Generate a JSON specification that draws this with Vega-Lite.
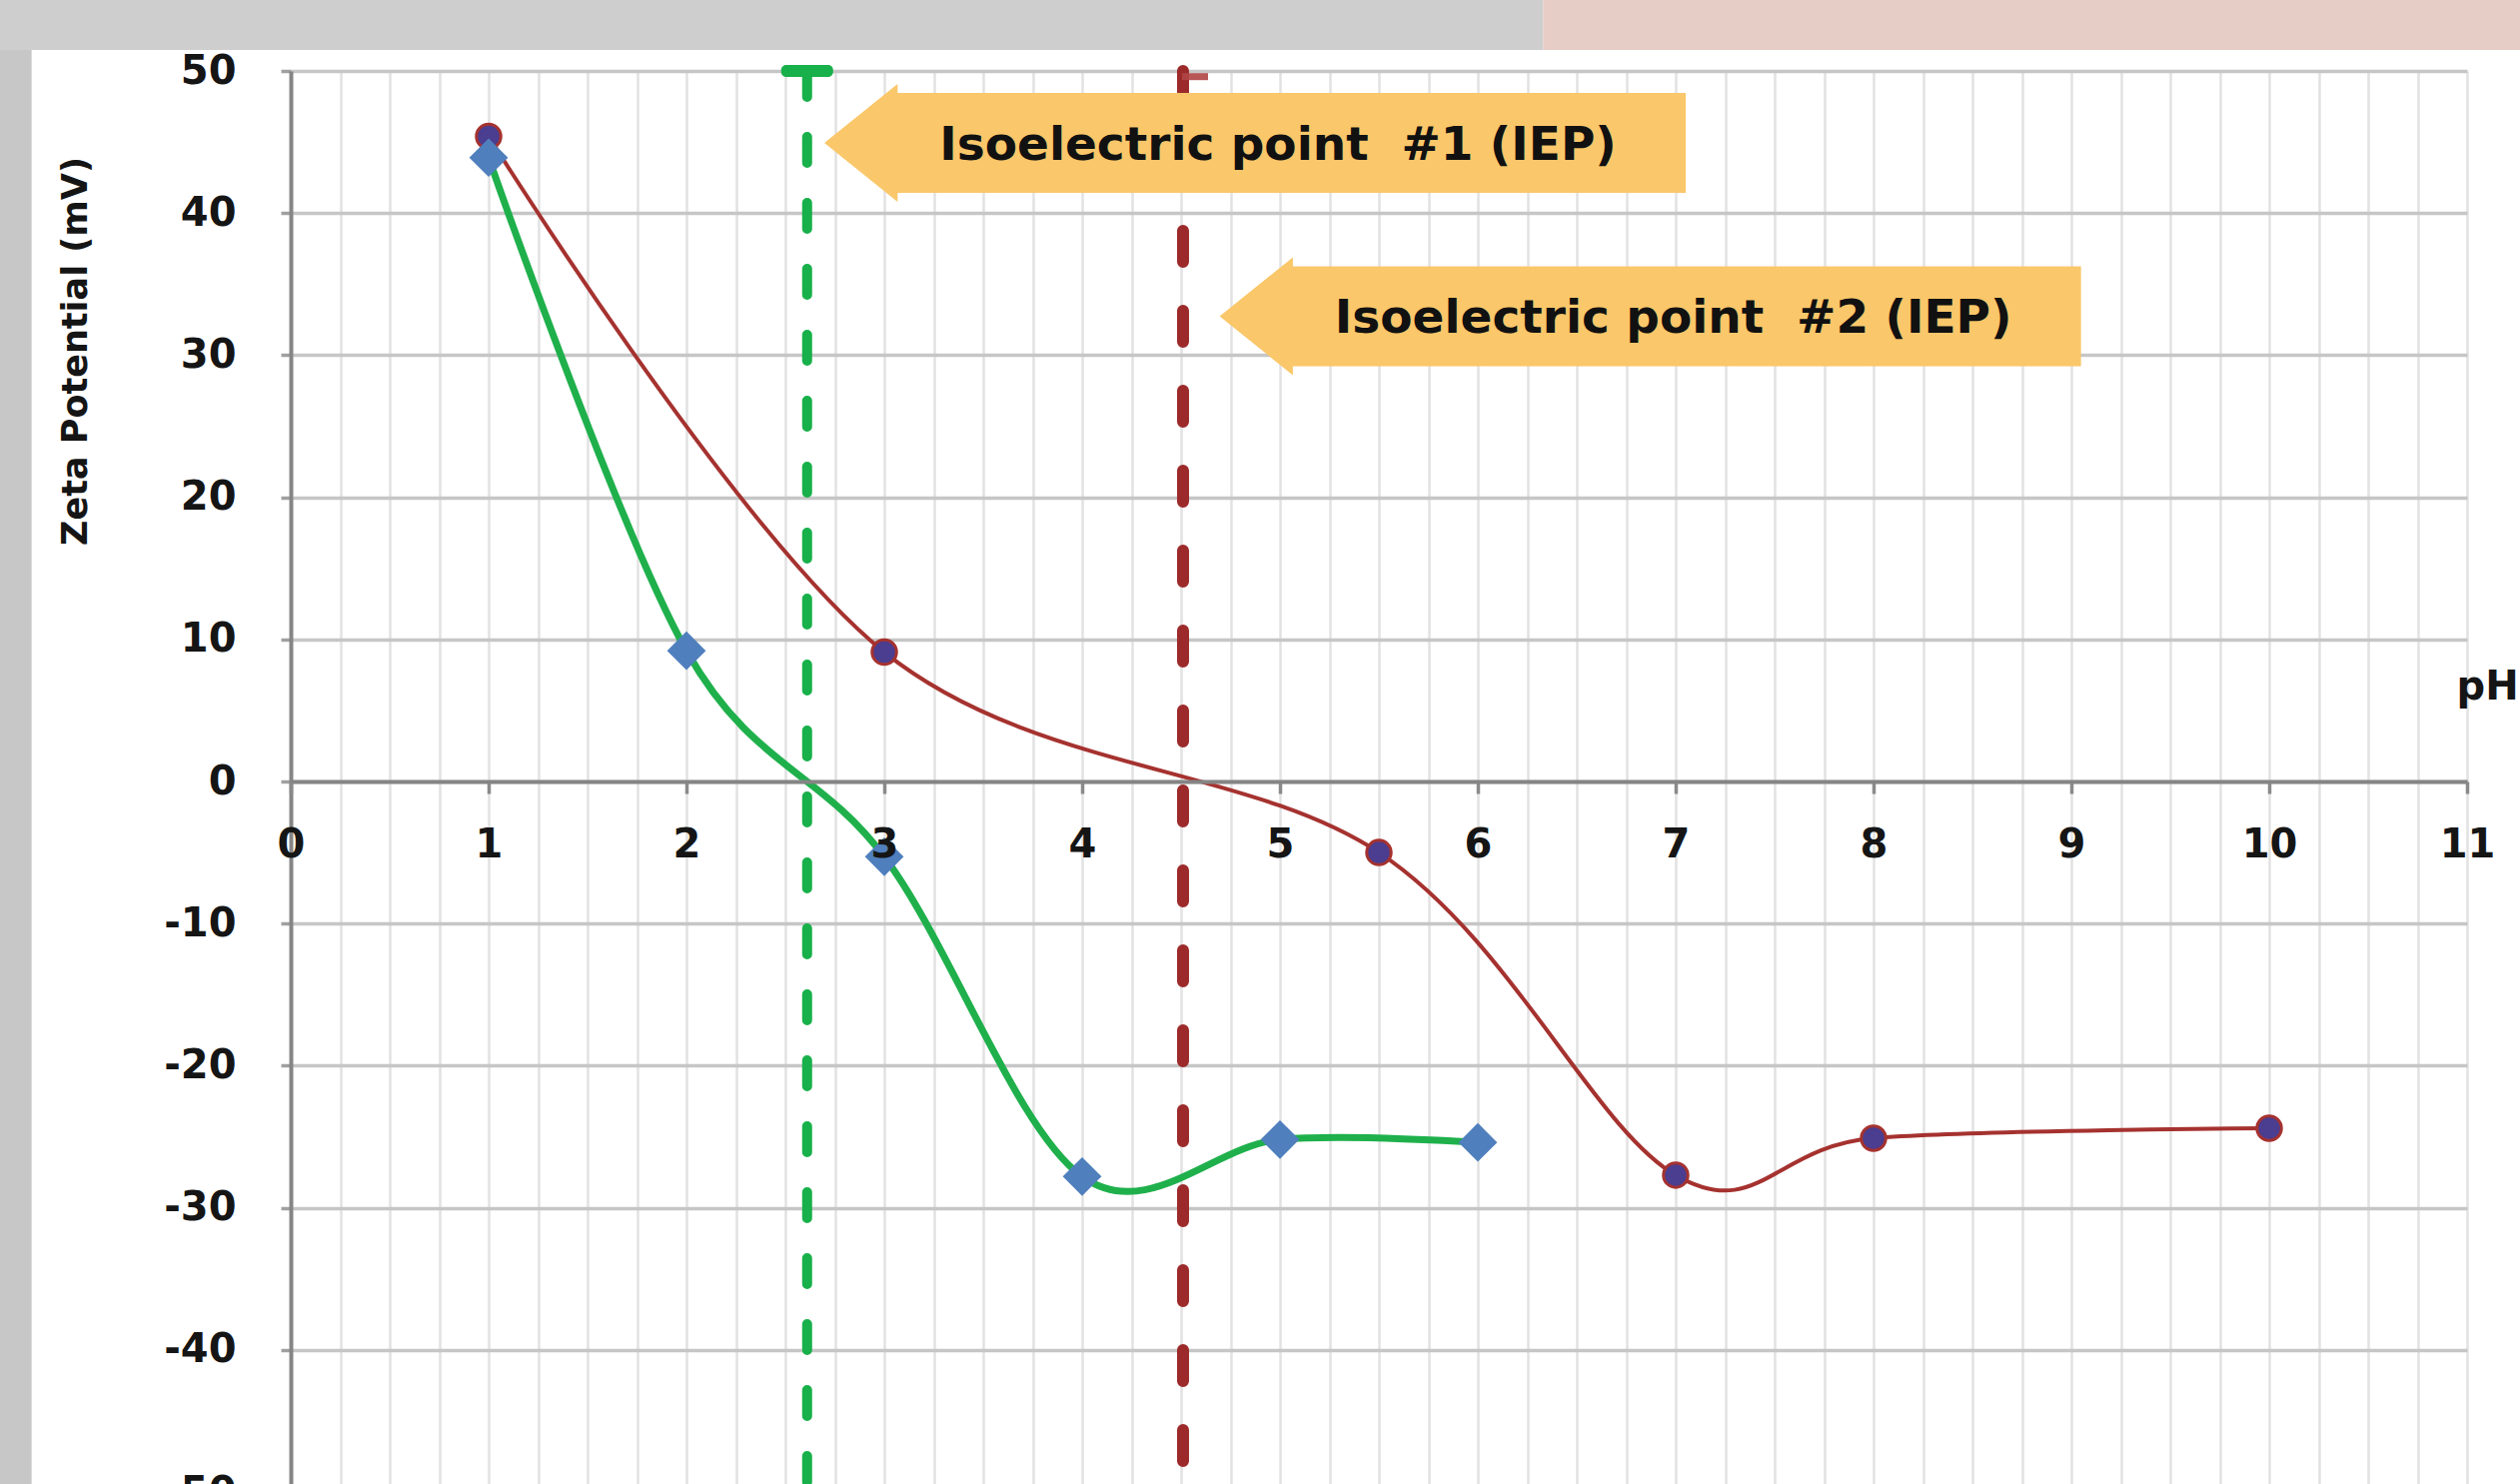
{
  "$schema": "https://vega.github.io/schema/vega-lite/v6.json",
  "width": 2178,
  "height": 1414,
  "autosize": {"type": "none"},
  "padding": {"left": 291, "top": 71, "right": 53, "bottom": 0},
  "background": "#ffffff",
  "config": {
    "view": {"stroke": null},
    "font": "DejaVu Sans",
    "axis": {"labelFont": "DejaVu Sans", "titleFont": "DejaVu Sans"}
  },
  "datasets": {
    "series1": [
      {"ph": 1, "mv": 43.9},
      {"ph": 2, "mv": 9.2},
      {"ph": 3, "mv": -5.3},
      {"ph": 4, "mv": -27.8},
      {"ph": 5, "mv": -25.2},
      {"ph": 6, "mv": -25.4}
    ],
    "series2": [
      {"ph": 1, "mv": 45.4},
      {"ph": 3, "mv": 9.1},
      {"ph": 5.5, "mv": -5.0},
      {"ph": 7, "mv": -27.7},
      {"ph": 8, "mv": -25.1},
      {"ph": 10, "mv": -24.4}
    ],
    "iep": [
      {"iep": "#1", "ph": 2.61},
      {"iep": "#2", "ph": 4.51}
    ],
    "callouts": [
      {"label": "Isoelectric point\u00a0 #1 (IEP)", "ph": 4.874, "mv": 44.94},
      {"label": "Isoelectric point\u00a0 #2 (IEP)", "ph": 6.872, "mv": 32.74}
    ],
    "blank": [{}]
  },
  "layer": [
    {
      "data": {"name": "blank"},
      "mark": {"type": "rect", "color": "#c7c7c7"},
      "encoding": {
        "x": {"datum": -2, "type": "quantitative", "axis": null},
        "x2": {"datum": -1.31},
        "y": {"datum": 60, "type": "quantitative", "axis": null},
        "y2": {"datum": -60}
      }
    },
    {
      "data": {"name": "blank"},
      "mark": {"type": "rect", "color": "#cecece"},
      "encoding": {
        "x": {"datum": -2, "type": "quantitative", "axis": null},
        "x2": {"datum": 6.33},
        "y": {"datum": 60, "type": "quantitative", "axis": null},
        "y2": {"datum": 51.48}
      }
    },
    {
      "data": {"name": "blank"},
      "mark": {"type": "rect", "color": "#e6cdc6"},
      "encoding": {
        "x": {"datum": 6.33, "type": "quantitative", "axis": null},
        "x2": {"datum": 12},
        "y": {"datum": 60, "type": "quantitative", "axis": null},
        "y2": {"datum": 51.48}
      }
    },
    {
      "data": {"name": "series2"},
      "mark": {"type": "line", "interpolate": "cardinal", "color": "#a5322f", "strokeWidth": 4},
      "encoding": {
        "x": {
          "field": "ph", "type": "quantitative",
          "scale": {"domain": [0, 11], "nice": false, "zero": false},
          "axis": {
            "orient": "bottom", "offset": -703, "zindex": 1,
            "values": [0, 1, 2, 3, 4, 5, 6, 7, 8, 9, 10, 11],
            "grid": false,
            "domainColor": "#858585", "domainWidth": 4,
            "tickColor": "#8a8a8a", "tickWidth": 3.5, "tickSize": 12,
            "labelFontWeight": "bold", "labelFontSize": 40, "labelColor": "#151515",
            "labelPadding": 31, "labelFlush": false, "labelOverlap": false,
            "title": "pH", "titleFontSize": 40, "titleFontWeight": "bold", "titleColor": "#151515",
            "titleX": 2167, "titleY": -95, "titleAlign": "left", "titleBaseline": "middle", "titleAngle": 0
          }
        },
        "y": {
          "field": "mv", "type": "quantitative",
          "scale": {"domain": [-50, 50], "nice": false, "zero": false, "range": [1422, 0]},
          "axis": {
            "orient": "left",
            "values": [-50, -40, -30, -20, -10, 0, 10, 20, 30, 40, 50],
            "labelExpr": "datum.value < 0 ? '-' + abs(datum.value) : '' + datum.value",
            "grid": true, "gridColor": "#c6c6c6", "gridWidth": 3.5,
            "domainColor": "#858585", "domainWidth": 4,
            "tickColor": "#a0a0a0", "tickWidth": 3.5, "tickSize": 10,
            "labelFontWeight": "bold", "labelFontSize": 40, "labelColor": "#151515",
            "labelPadding": 45, "labelOverlap": false,
            "title": "Zeta Potential (mV)", "titleFontSize": 35, "titleFontWeight": "bold", "titleColor": "#151515",
            "titleX": -216, "titleY": 280, "titleAngle": -90, "titleAlign": "center", "titleBaseline": "middle"
          }
        }
      }
    },
    {
      "data": {"name": "series2"},
      "mark": {"type": "point", "shape": "circle", "size": 600, "filled": true, "fill": "#4b3d8f", "stroke": "#a5322f", "strokeWidth": 3, "opacity": 1},
      "encoding": {
        "x": {"field": "ph", "type": "quantitative", "axis": null},
        "y": {"field": "mv", "type": "quantitative", "axis": null}
      }
    },
    {
      "data": {"name": "series1"},
      "mark": {"type": "line", "interpolate": "cardinal", "color": "#1fb04c", "strokeWidth": 7},
      "encoding": {
        "x": {
          "field": "ph", "type": "quantitative",
          "axis": {
            "orient": "top",
            "values": [0, 0.25, 0.5, 0.75, 1, 1.25, 1.5, 1.75, 2, 2.25, 2.5, 2.75, 3, 3.25, 3.5, 3.75, 4, 4.25, 4.5, 4.75, 5, 5.25, 5.5, 5.75, 6, 6.25, 6.5, 6.75, 7, 7.25, 7.5, 7.75, 8, 8.25, 8.5, 8.75, 9, 9.25, 9.5, 9.75, 10, 10.25, 10.5, 10.75, 11],
            "grid": true, "gridColor": "#e2e2e2", "gridWidth": 2.5,
            "domain": false, "ticks": false, "labels": false, "title": null
          }
        },
        "y": {"field": "mv", "type": "quantitative", "axis": null}
      }
    },
    {
      "data": {"name": "series1"},
      "mark": {"type": "point", "shape": "diamond", "size": 1500, "filled": true, "color": "#4f7fbd", "opacity": 1},
      "encoding": {
        "x": {"field": "ph", "type": "quantitative", "axis": null},
        "y": {"field": "mv", "type": "quantitative", "axis": null}
      }
    },
    {
      "data": {"name": "iep"},
      "transform": [{"filter": "datum.iep === '#1'"}],
      "mark": {"type": "rule", "color": "#18b04a", "strokeWidth": 10, "strokeDash": [26, 40], "strokeCap": "round"},
      "encoding": {
        "x": {"field": "ph", "type": "quantitative", "axis": null},
        "y": {"datum": 50, "type": "quantitative", "axis": null},
        "y2": {"datum": -50}
      }
    },
    {
      "data": {"name": "iep"},
      "transform": [{"filter": "datum.iep === '#2'"}],
      "mark": {"type": "rule", "color": "#9c2a2a", "strokeWidth": 12, "strokeDash": [31, 49], "strokeCap": "round"},
      "encoding": {
        "x": {"field": "ph", "type": "quantitative", "axis": null},
        "y": {"datum": 50, "type": "quantitative", "axis": null},
        "y2": {"datum": -50}
      }
    },
    {
      "data": {"name": "iep"},
      "transform": [{"filter": "datum.iep === '#1'"}],
      "mark": {"type": "tick", "orient": "horizontal", "color": "#18b04a", "size": 52, "thickness": 12, "cornerRadius": 5, "opacity": 1},
      "encoding": {
        "x": {"field": "ph", "type": "quantitative", "axis": null},
        "y": {"datum": 50, "type": "quantitative", "axis": null}
      }
    },
    {
      "data": {"name": "iep"},
      "transform": [{"filter": "datum.iep === '#1'"}],
      "mark": {"type": "tick", "orient": "horizontal", "color": "#18b04a", "size": 52, "thickness": 12, "cornerRadius": 5, "opacity": 1},
      "encoding": {
        "x": {"field": "ph", "type": "quantitative", "axis": null},
        "y": {"datum": -50, "type": "quantitative", "axis": null}
      }
    },
    {
      "data": {"name": "iep"},
      "transform": [{"filter": "datum.iep === '#2'"}],
      "mark": {"type": "tick", "orient": "horizontal", "color": "#b04545", "size": 26, "thickness": 7, "xOffset": 12, "opacity": 0.9},
      "encoding": {
        "x": {"field": "ph", "type": "quantitative", "axis": null},
        "y": {"datum": 49.6, "type": "quantitative", "axis": null}
      }
    },
    {
      "data": {"name": "callouts"},
      "mark": {
        "type": "point",
        "shape": "M-1,0L-0.83,-0.137L-0.83,-0.116L1,-0.116L1,0.116L-0.83,0.116L-0.83,0.137Z",
        "size": 743044, "filled": true, "color": "#fac76a", "opacity": 1, "strokeWidth": 0
      },
      "encoding": {
        "x": {"field": "ph", "type": "quantitative", "axis": null},
        "y": {"field": "mv", "type": "quantitative", "axis": null}
      }
    },
    {
      "data": {"name": "callouts"},
      "mark": {"type": "text", "font": "DejaVu Sans", "fontWeight": "bold", "fontSize": 47, "color": "#111111", "align": "center", "baseline": "middle", "dx": 23, "dy": 3},
      "encoding": {
        "x": {"field": "ph", "type": "quantitative", "axis": null},
        "y": {"field": "mv", "type": "quantitative", "axis": null},
        "text": {"field": "label"}
      }
    }
  ],
  "resolve": {"axis": {"x": "independent", "y": "independent"}}
}
